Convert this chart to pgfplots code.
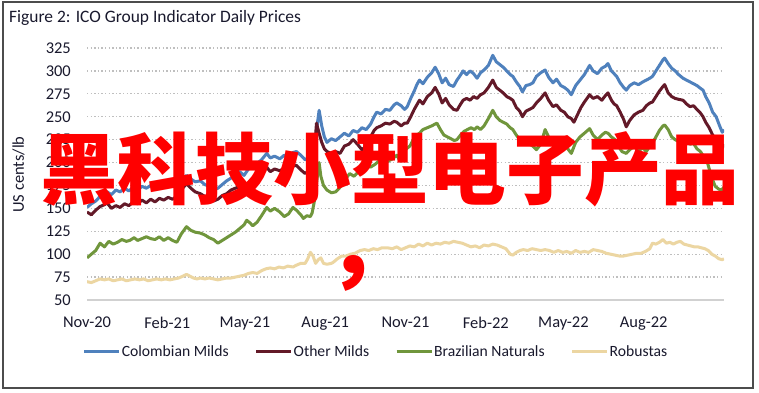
\documentclass[border=0pt]{standalone}
\usepackage{pgfplots}
\pgfplotsset{compat=1.18}
\usepackage{fontspec}
\setmainfont{Carlito}
\newfontfamily\cjk{Noto Sans CJK SC}
\definecolor{cblue}{RGB}{79,129,189}
\definecolor{cmaroon}{RGB}{99,25,40}
\definecolor{cgreen}{RGB}{112,150,60}
\definecolor{ctan}{RGB}{236,214,162}
\definecolor{textc}{RGB}{25,25,45}
\begin{document}
\begin{tikzpicture}
\useasboundingbox (0bp,0bp) rectangle (759bp,-393bp);
\fill[white] (0bp,0bp) rectangle (759bp,-393bp);
\draw[line width=1.3bp, draw=black!70] (3bp,-2bp) rectangle (753bp,-388bp);
\node[anchor=base west, inner sep=0pt, text=textc, font=\fontsize{17.5}{20}\selectfont] at (9bp,-22bp) {Figure 2: ICO Group Indicator Daily Prices};
\node[rotate=90, inner sep=0pt, text=textc, font=\fontsize{16.5}{18}\selectfont] at (18.5bp,-174.5bp) {US cents/lb};
\begin{axis}[
  at={(87bp,-300bp)}, anchor=south west,
  scale only axis, width=637bp, height=252bp,
  xmin=0, xmax=730, ymin=50, ymax=325,
  axis x line*=bottom, axis y line*=left,
  x axis line style={draw=black!18, line width=1.2bp},
  y axis line style={draw=none},
  major tick length=0pt,
  ytick={50,75,100,125,150,175,200,225,250,275,300,325},
  xtick={0,92,181,273,365,457,546,638},
  xticklabels={Nov-20,Feb-21,May-21,Aug-21,Nov-21,Feb-22,May-22,Aug-22},
  ymajorgrids,
  grid style={draw=black!25, line width=1.3bp, dash pattern=on 1.3bp off 2.3bp},
  tick label style={font=\fontsize{16.5}{18}\selectfont, text=textc},
  yticklabel style={anchor=east, inner sep=0pt, xshift=-16bp},
  xticklabel style={anchor=north, inner sep=0pt, yshift=-17bp},
  /pgf/number format/assume math mode=true,
  legend columns=4,
  legend style={at={(0.4529,-0.206)}, anchor=center, draw=none, fill=none,
    font=\fontsize{15.7}{17}\selectfont, text=textc, inner sep=0pt,
    nodes={inner sep=1bp},
    /tikz/every even column/.append style={column sep=25bp}},
  legend image code/.code={\draw[#1, line width=3bp] (0bp,0bp) -- (35bp,0bp);},
]
\addplot[cblue, line width=3bp, line join=round] coordinates {(0,151) (5,155) (10,158) (15,163) (20,165) (23,168) (28,165) (33,170) (38,168) (43,172) (48,169) (53,173) (58,170) (63,174) (68,172) (73,175) (78,171) (83,176) (88,173) (93,177) (98,174) (103,176) (108,180) (114,186) (119,182) (124,179) (130,180) (135,176) (140,174) (145,170) (150,172) (155,176) (160,180) (165,183) (170,187) (175,190) (180,186) (185,193) (190,195) (195,199) (200,203) (206,210) (210,205) (215,207) (221,204) (226,208) (231,205) (236,211) (240,212) (245,208) (250,203) (255,206) (260,215) (263,235) (266,257) (269,240) (272,228) (275,222) (280,226) (285,224) (290,228) (295,232) (300,229) (305,235) (310,233) (315,238) (320,236) (325,242) (329,250) (332,255) (337,253) (342,258) (347,257) (352,263) (355,265) (360,262) (364,258) (367,261) (371,270) (375,278) (378,285) (381,290) (385,286) (390,293) (395,298) (399,304) (403,297) (407,287) (411,292) (415,285) (420,283) (424,290) (427,294) (431,300) (435,296) (439,300) (443,297) (447,292) (451,298) (455,301) (460,306) (465,317) (469,310) (473,307) (477,304) (481,300) (485,296) (488,294) (492,288) (496,283) (499,277) (503,284) (507,285) (511,287) (515,294) (520,298) (525,301) (529,293) (534,287) (538,291) (543,284) (547,282) (551,279) (555,274) (560,284) (565,290) (570,296) (576,306) (580,300) (585,297) (590,303) (594,305) (597,308) (601,300) (604,297) (607,294) (611,287) (615,282) (618,279) (622,284) (627,287) (632,285) (637,288) (641,290) (645,292) (648,294) (652,300) (656,306) (660,312) (662,314) (666,308) (670,303) (674,300) (678,296) (683,292) (687,290) (691,288) (695,286) (699,284) (703,281) (706,279) (709,272) (713,265) (717,255) (721,250) (725,240) (728,233) (730,236)};
\addlegendentry{Colombian Milds}
\addplot[cmaroon, line width=3bp, line join=round] coordinates {(0,146) (5,143) (10,148) (15,152) (20,154) (23,156) (28,150) (33,153) (38,151) (43,155) (48,153) (53,157) (58,155) (63,159) (68,156) (73,160) (78,157) (83,161) (88,159) (93,162) (98,160) (103,163) (108,170) (114,177) (119,172) (124,168) (130,166) (135,163) (140,161) (145,158) (150,160) (155,164) (160,166) (165,170) (170,172) (175,174) (180,172) (185,178) (190,182) (195,186) (200,190) (206,195) (210,190) (215,193) (221,191) (226,194) (231,192) (236,196) (240,197) (245,192) (250,188) (255,192) (260,205) (263,243) (266,232) (269,222) (272,215) (275,212) (280,210) (285,212) (290,210) (295,218) (300,220) (305,225) (310,220) (315,214) (320,218) (325,228) (329,235) (332,238) (337,240) (342,243) (347,242) (352,245) (355,244) (360,240) (364,243) (367,243) (371,250) (375,258) (378,263) (381,268) (385,264) (390,272) (395,276) (399,282) (403,275) (407,265) (411,270) (415,263) (420,258) (424,257) (427,262) (431,268) (435,270) (439,268) (443,272) (447,270) (451,274) (455,276) (460,282) (465,290) (469,282) (473,279) (477,276) (481,272) (485,270) (488,268) (492,260) (496,256) (499,250) (503,256) (507,258) (511,260) (515,265) (520,270) (525,276) (529,268) (534,261) (538,263) (543,257) (547,255) (551,250) (555,248) (558,244) (562,252) (566,260) (570,266) (576,274) (580,270) (585,272) (590,268) (594,273) (597,276) (601,268) (604,264) (607,262) (611,255) (615,247) (618,239) (622,246) (627,252) (632,255) (637,257) (641,262) (645,265) (648,266) (652,272) (656,278) (660,283) (662,285) (666,276) (670,272) (674,270) (678,269) (683,268) (687,264) (691,261) (695,262) (699,258) (703,254) (706,250) (709,244) (713,238) (717,230) (721,225) (725,218) (728,216) (730,220)};
\addlegendentry{Other Milds}
\addplot[cgreen, line width=3bp, line join=round] coordinates {(0,96) (5,100) (10,104) (15,112) (20,108) (25,114) (30,111) (35,113) (40,116) (45,114) (49,115) (54,118) (58,115) (63,117) (68,119) (73,117) (78,116) (83,119) (88,115) (93,118) (98,115) (103,113) (108,122) (114,130) (119,126) (124,124) (130,123) (135,121) (140,118) (145,116) (150,112) (155,115) (160,118) (165,121) (170,124) (175,128) (180,132) (183,137) (187,134) (190,131) (195,135) (200,142) (206,151) (210,147) (215,150) (221,146) (226,141) (231,144) (236,151) (240,148) (245,143) (248,139) (252,142) (256,141) (258,145) (261,160) (264,185) (266,200) (268,185) (271,175) (275,170) (280,167) (285,168) (290,173) (295,180) (301,188) (306,185) (311,190) (316,192) (320,197) (325,195) (330,198) (335,202) (340,200) (344,201) (350,204) (355,208) (358,203) (362,210) (366,215) (370,218) (374,225) (378,230) (381,232) (385,236) (390,238) (395,240) (401,243) (405,236) (409,230) (413,228) (417,226) (421,224) (424,225) (428,230) (432,234) (436,236) (440,238) (444,236) (447,239) (451,236) (455,240) (460,248) (465,257) (469,250) (473,246) (477,244) (481,242) (485,238) (488,236) (492,230) (496,225) (499,221) (503,225) (507,220) (511,218) (515,214) (520,220) (525,236) (529,228) (534,220) (538,225) (543,223) (547,220) (551,215) (555,210) (560,222) (565,228) (570,232) (576,237) (580,230) (585,225) (590,230) (594,233) (597,232) (601,228) (605,225) (609,218) (613,212) (618,210) (622,214) (627,218) (632,213) (637,216) (641,212) (645,218) (648,221) (652,228) (656,235) (660,240) (662,241) (666,236) (670,228) (674,225) (678,223) (683,222) (687,224) (691,220) (695,221) (699,215) (703,212) (707,206) (711,200) (714,190) (717,181) (720,174) (724,171) (727,170) (730,173)};
\addlegendentry{Brazilian Naturals}
\addplot[ctan, line width=3bp, line join=round] coordinates {(0,70) (5,69) (10,71) (15,73) (20,72) (25,73) (30,71) (35,72) (40,73) (45,71) (50,72) (55,73) (60,72) (65,73) (70,71) (75,72) (80,73) (85,72) (90,73) (95,72) (100,73) (105,74) (110,76) (114,78) (118,76) (122,74) (126,73) (130,74) (135,73) (140,74) (145,73) (150,72) (155,73) (160,74) (165,74) (170,75) (175,76) (180,77) (185,79) (190,80) (195,79) (200,82) (205,84) (210,85) (215,84) (220,86) (225,85) (230,87) (236,86) (240,88) (245,90) (250,90) (253,95) (256,102) (259,98) (262,90) (265,94) (268,96) (271,90) (275,89) (280,90) (282,91) (287,95) (292,98) (297,98) (302,100) (307,101) (313,104) (318,105) (323,104) (328,106) (333,105) (338,107) (344,107) (350,106) (355,108) (360,105) (365,107) (370,109) (375,108) (380,111) (385,109) (390,112) (395,110) (400,112) (405,111) (410,113) (415,112) (420,114) (425,113) (430,112) (435,110) (440,108) (445,109) (450,107) (455,110) (460,109) (465,111) (470,110) (475,108) (480,106) (485,100) (488,99) (492,102) (496,104) (500,105) (505,104) (510,106) (515,105) (520,104) (525,105) (530,104) (535,102) (540,104) (545,102) (550,103) (555,101) (560,104) (565,102) (570,103) (575,102) (580,105) (585,104) (590,103) (595,101) (600,100) (605,99) (610,98) (615,98) (620,99) (625,100) (630,101) (635,101) (640,103) (645,106) (648,112) (652,111) (656,113) (660,116) (664,112) (668,113) (672,111) (676,113) (680,114) (684,111) (688,110) (692,109) (696,108) (700,108) (704,107) (708,106) (712,104) (716,100) (720,98) (724,95) (728,94) (730,95)};
\addlegendentry{Robustas}
\end{axis}
\node[anchor=west, inner sep=0pt, text=red, font=\cjk\bfseries\fontsize{78}{80}\selectfont] at (40bp,-169bp) {黑科技小型电子产品};
\node[anchor=base west, inner sep=0pt, text=red, font=\cjk\bfseries\fontsize{90}{92}\selectfont] at (326bp,-277bp) {，};
\end{tikzpicture}
\end{document}
